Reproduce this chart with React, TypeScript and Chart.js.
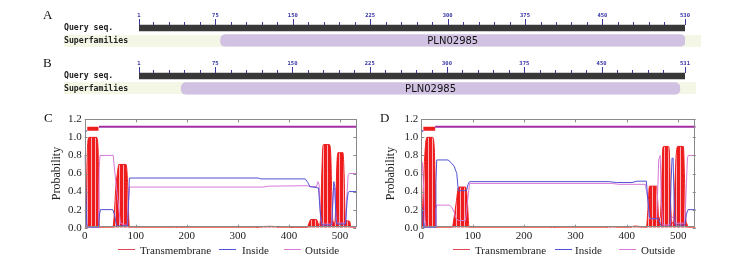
import React, { useEffect, useRef } from 'react';
import { Chart, registerables } from 'chart.js';

Chart.register(...registerables);

type Pt = [number, number];

// ---------- Panels A & B: conserved-domain graphics ----------
const rowLabels = ['Query seq.', 'Superfamilies'];
const domainName = 'PLN02985';
const queryRangeA: Pt = [1, 530];
const queryRangeB: Pt = [1, 531];
const domainRangeA: Pt = [80, 530];
const domainRangeB: Pt = [42, 526];
const rulerLabelsA = [1, 75, 150, 225, 300, 375, 450, 530];
const rulerLabelsB = [1, 75, 150, 225, 300, 375, 450, 531];
const rulerMinorTicks = [15, 30, 45, 60, 90, 105, 120, 135, 165, 180, 195, 210, 240, 255, 270, 285, 315, 330, 345, 360, 390, 405, 420, 435, 465, 480, 495, 510];

// ---------- Panels C & D: TMHMM posterior probabilities ----------
const seriesNames = ['Transmembrane', 'Inside', 'Outside'];
const xMaxC = 532;
const xMaxD = 534;

const tmC: Pt[] = [[0, 0], [3, 0], [4, 0.5], [6, 0.95], [9, 1], [23, 1], [26, 0.9], [27.5, 0.4], [28.5, 0], [55, 0], [58, 0.15], [61, 0.45], [64, 0.6], [67, 0.7], [81, 0.7], [84, 0.5], [86, 0.15], [87.5, 0], [178, 0], [185, 0.006], [195, 0.004], [198, 0], [335, 0], [345, 0.01], [360, 0.015], [375, 0.012], [382, 0], [400, 0], [410, 0.004], [430, 0.004], [436, 0], [438, 0.03], [443, 0.09], [454, 0.09], [459, 0.03], [462, 0.1], [464, 0.5], [466, 0.85], [468, 0.92], [479, 0.92], [482, 0.8], [484, 0.35], [486, 0.08], [490, 0.05], [492, 0.3], [494, 0.7], [496, 0.83], [506, 0.83], [508, 0.6], [510, 0.15], [512, 0.08], [519, 0.07], [521, 0.02], [523, 0], [532, 0]];
const insideC: Pt[] = [[0, 0.8], [2, 0.5], [4, 0.05], [5, 0], [27, 0], [29, 0.15], [31, 0.2], [55, 0.2], [58, 0.15], [62, 0.04], [64, 0.02], [84, 0.02], [86, 0.3], [87.5, 0.55], [340, 0.55], [345, 0.54], [432, 0.54], [437, 0.5], [441, 0.455], [458, 0.44], [461, 0.2], [464, 0.03], [484, 0.03], [486, 0.3], [488, 0.51], [490, 0.45], [492, 0.1], [494, 0.04], [511, 0.04], [514, 0.3], [516, 0.39], [518, 0.4], [532, 0.4]];
const outsideC: Pt[] = [[0, 0.2], [2, 0.15], [4, 0.03], [5, 0], [27, 0], [28.5, 0.66], [30, 0.8], [56, 0.8], [58, 0.67], [62, 0.45], [66, 0.25], [70, 0.05], [83, 0.02], [86, 0.3], [88, 0.45], [350, 0.45], [360, 0.46], [436, 0.465], [441, 0.455], [454, 0.455], [457, 0.51], [459, 0.48], [462, 0.1], [465, 0.04], [484, 0.04], [487, 0.4], [490, 0.44], [492, 0.15], [494, 0.05], [511, 0.05], [514, 0.4], [516, 0.58], [518, 0.6], [532, 0.6]];
const topInsideC: Pt[] = [[0, 1.07], [4, 1.07]];
const topTmC: Pt[] = [[5, 1.096], [27, 1.096]];
const topOutsideC: Pt[] = [[28, 1.118], [532, 1.118]];

const tmD: Pt[] = [[0, 0], [1, 0], [3, 0.3], [5, 0.6], [8, 0.9], [11, 1], [22, 1], [25, 0.9], [27, 0.5], [28.5, 0], [60, 0], [64, 0.12], [68, 0.28], [72, 0.44], [74, 0.45], [86, 0.45], [89, 0.35], [92, 0.05], [93, 0], [248, 0], [255, 0.005], [265, 0.004], [268, 0], [358, 0], [365, 0.01], [378, 0.012], [383, 0], [405, 0], [410, 0.012], [418, 0.018], [425, 0.012], [430, 0], [438, 0], [441, 0.2], [444, 0.46], [458, 0.46], [460, 0.3], [462, 0.1], [465, 0.12], [468, 0.5], [470, 0.88], [472, 0.9], [481, 0.9], [483, 0.8], [485, 0.3], [488, 0.05], [491, 0.08], [493, 0.4], [496, 0.8], [499, 0.9], [510, 0.9], [512, 0.6], [514, 0.15], [517, 0.04], [520, 0], [534, 0]];
const insideD: Pt[] = [[0, 0.25], [2, 0.2], [4, 0.05], [5, 0], [27, 0], [28.5, 0.5], [30, 0.75], [52, 0.75], [58, 0.72], [64, 0.68], [69, 0.6], [72, 0.41], [88, 0.41], [91, 0.48], [94, 0.51], [365, 0.51], [380, 0.5], [410, 0.5], [420, 0.515], [438, 0.515], [441, 0.3], [444, 0.12], [447, 0.1], [462, 0.1], [465, 0.04], [468, 0.015], [484, 0.015], [486, 0.5], [488, 0.77], [490, 0.77], [492, 0.3], [494, 0.03], [513, 0.03], [516, 0.15], [519, 0.2], [534, 0.2]];
const outsideD: Pt[] = [[0, 0.75], [2, 0.72], [4, 0.5], [7, 0.1], [9, 0], [27, 0], [28.5, 0.2], [30, 0.25], [55, 0.25], [60, 0.22], [64, 0.17], [68, 0.1], [72, 0.08], [86, 0.08], [90, 0.3], [94, 0.49], [370, 0.49], [385, 0.48], [436, 0.48], [440, 0.35], [444, 0.1], [458, 0.1], [460, 0.4], [462, 0.75], [465, 0.8], [467, 0.3], [470, 0.03], [484, 0.03], [486, 0.1], [490, 0.12], [493, 0.05], [513, 0.05], [516, 0.5], [518, 0.78], [520, 0.8], [534, 0.8]];
const topInsideD: Pt[] = [[0, 1.07], [4, 1.07]];
const topTmD: Pt[] = [[4, 1.096], [27, 1.096]];
const topOutsideD: Pt[] = [[27, 1.118], [534, 1.118]];

const COLORS = {
  tm: '#ee1c1c',
  inside: '#5252d4',
  outside: '#d77ad7',
  topOutside: '#a22ea2',
  legendTm: '#e0485a',
  frame: '#8a8a8a',
  text: '#222',
};

const toXY = (pts: Pt[]) => pts.map(([x, y]) => ({ x, y }));

function DomainPanel({ top, queryRange, domainRange, rulerLabels }: any) {
  const ref = useRef<HTMLCanvasElement>(null);
  useEffect(() => {
    const rulerPlugin = {
      id: 'ruler',
      afterDatasetsDraw(chart: any) {
        const { ctx } = chart;
        const xs = chart.scales.x;
        const bar = chart.getDatasetMeta(0).data[0];
        const barTop = bar.y - bar.height / 2;
        ctx.save();
        ctx.strokeStyle = '#3a3a96';
        ctx.lineWidth = 1;
        ctx.beginPath();
        rulerMinorTicks.forEach((v) => {
          const px = Math.round(xs.getPixelForValue(v)) + 0.5;
          ctx.moveTo(px, barTop);
          ctx.lineTo(px, barTop - 3);
        });
        rulerLabels.forEach((v: number) => {
          const px = Math.round(xs.getPixelForValue(v)) + 0.5;
          ctx.moveTo(px, barTop);
          ctx.lineTo(px, barTop - 6);
        });
        ctx.stroke();
        const dom = chart.getDatasetMeta(1).data[1];
        ctx.fillStyle = '#111';
        ctx.font = '10px "DejaVu Sans"';
        ctx.textAlign = 'center';
        ctx.textBaseline = 'middle';
        ctx.fillText(domainName, (dom.x + dom.base) / 2, dom.y + 0.5);
        ctx.restore();
      },
    };
    const chart = new Chart(ref.current!, {
      type: 'bar',
      data: {
        labels: rowLabels,
        datasets: [
          { label: rowLabels[0], data: [queryRange, null], backgroundColor: '#383838', barThickness: 6, grouped: false } as any,
          { label: rowLabels[1], data: [null, domainRange], backgroundColor: '#d1c2e3', barThickness: 12, borderRadius: 5, borderSkipped: false, grouped: false } as any,
        ],
      },
      options: {
        indexAxis: 'y',
        responsive: false,
        animation: false,
        events: [],
        layout: { padding: { left: 64, right: 61, top: 0, bottom: 5.25 } },
        plugins: { legend: { display: false }, tooltip: { enabled: false } },
        scales: {
          x: {
            type: 'linear',
            position: 'top',
            min: queryRange[0],
            max: queryRange[1],
            grid: { display: false, drawTicks: false },
            border: { display: false },
            afterBuildTicks: (s: any) => { s.ticks = rulerLabels.map((v: number) => ({ value: v })); },
            afterFit: (s: any) => { s.height = 21.75; },
            ticks: {
              autoSkip: false, maxRotation: 0, padding: 2.75, color: '#3535a8',
              font: { family: 'DejaVu Sans Mono', size: 5.5, weight: 'bold' },
              callback: (v: any) => String(v),
            },
          },
          y: {
            type: 'category',
            grid: { display: false, drawTicks: false },
            border: { display: false },
            afterFit: (s: any) => { s.width = 75; },
            ticks: { autoSkip: false, crossAlign: 'far', color: COLORS.text, padding: 0, font: { family: 'DejaVu Sans Mono', size: 8.2, weight: 'bold' } },
          },
        },
      } as any,
      plugins: [rulerPlugin],
    });
    return () => chart.destroy();
  }, []);
  return <canvas ref={ref} width={746} height={52} style={{ position: 'absolute', left: 0, top, width: 746, height: 52 }} />;
}

function TmPanel({ left, xMax, tm, inside, outside, topInside, topTm, topOutside, padLeft, axisWidth, padRight }: any) {
  const ref = useRef<HTMLCanvasElement>(null);
  useEffect(() => {
    const canvas = ref.current!;
    const tile = document.createElement('canvas');
    tile.width = 4;
    tile.height = 4;
    const g = tile.getContext('2d')!;
    g.fillStyle = COLORS.tm;
    g.fillRect(0, 0, 4, 4);
    g.fillStyle = '#f8b4b4';
    g.fillRect(3, 0, 1, 4);
    const pattern = canvas.getContext('2d')!.createPattern(tile, 'repeat');

    const framePlugin = {
      id: 'frameTicks',
      afterDraw(chart: any) {
        const { ctx, chartArea: a, scales } = chart;
        const xs = scales.x;
        const ys = scales.y;
        ctx.save();
        ctx.strokeStyle = COLORS.frame;
        ctx.lineWidth = 1;
        ctx.strokeRect(Math.round(a.left) + 0.5, Math.round(a.top) + 0.5, Math.round(a.right - a.left) - 1, Math.round(a.bottom - a.top) - 1);
        ctx.beginPath();
        const t = 3;
        xs.ticks.forEach((tk: any) => {
          const px = Math.round(xs.getPixelForValue(tk.value)) + 0.5;
          ctx.moveTo(px, a.bottom); ctx.lineTo(px, a.bottom - t);
          ctx.moveTo(px, a.top); ctx.lineTo(px, a.top + t);
        });
        ys.ticks.forEach((tk: any) => {
          const py = Math.round(ys.getPixelForValue(tk.value)) + 0.5;
          ctx.moveTo(a.left, py); ctx.lineTo(a.left + t, py);
          ctx.moveTo(a.right, py); ctx.lineTo(a.right - t, py);
        });
        ctx.stroke();
        ctx.restore();
      },
    };

    const base = { pointRadius: 0, tension: 0 };
    const chart = new Chart(canvas, {
      type: 'line',
      data: {
        datasets: [
          { ...base, label: 'topology outside', data: toXY(topOutside), borderColor: COLORS.topOutside, borderWidth: 2 },
          { ...base, label: 'topology TM', data: toXY(topTm), borderColor: COLORS.tm, borderWidth: 4, borderCapStyle: 'butt' },
          { ...base, label: 'topology inside', data: toXY(topInside), borderColor: COLORS.inside, borderWidth: 1.5 },
          { ...base, label: seriesNames[1], data: toXY(inside), borderColor: COLORS.inside, borderWidth: 1 },
          { ...base, label: seriesNames[2], data: toXY(outside), borderColor: COLORS.outside, borderWidth: 1 },
          { ...base, label: seriesNames[0], data: toXY(tm), borderColor: COLORS.tm, borderWidth: 1, backgroundColor: pattern, fill: 'origin', cubicInterpolationMode: 'monotone' },
        ] as any,
      },
      options: {
        responsive: false,
        animation: false,
        events: [],
        layout: { padding: { left: padLeft, right: padRight, top: 19.3, bottom: 6.3 } },
        plugins: { legend: { display: false }, tooltip: { enabled: false } },
        scales: {
          x: {
            type: 'linear', min: 0, max: xMax,
            grid: { display: false, drawTicks: false },
            border: { display: false },
            afterFit: (s: any) => { s.height = 16; },
            ticks: { stepSize: 100, includeBounds: false, padding: 2, maxRotation: 0, color: COLORS.text, font: { family: 'Liberation Serif', size: 11 }, callback: (v: any) => String(v) },
          },
          y: {
            type: 'linear', min: 0, max: 1.2,
            grid: { display: false, drawTicks: false },
            border: { display: false },
            afterFit: (s: any) => { s.width = axisWidth; },
            title: { display: true, text: 'Probability', color: COLORS.text, font: { family: 'Liberation Serif', size: 12 }, padding: { top: 5.5, bottom: 0 } },
            ticks: { stepSize: 0.2, padding: 3, color: COLORS.text, font: { family: 'Liberation Serif', size: 11 }, callback: (v: any) => Number(v).toFixed(1) },
          },
        },
      } as any,
      plugins: [framePlugin],
    });
    return () => chart.destroy();
  }, []);
  return <canvas ref={ref} width={373} height={150} style={{ position: 'absolute', left, top: 100, width: 373, height: 150 }} />;
}

function Legend({ items }: any) {
  const colors = [COLORS.legendTm, COLORS.inside, COLORS.outside];
  return (
    <>
      {items.map((it: any, i: number) => (
        <React.Fragment key={i}>
          <div style={{ position: 'absolute', left: it.line, top: 249, width: 17, height: 0, borderTop: `1px solid ${colors[i]}` }} />
          <span style={{ position: 'absolute', left: it.text, top: 242.5, font: '11px "Liberation Serif"', lineHeight: '14px', color: COLORS.text, whiteSpace: 'nowrap' }}>{seriesNames[i]}</span>
        </React.Fragment>
      ))}
    </>
  );
}

const letterStyle: any = { position: 'absolute', font: '13px "Liberation Serif"', lineHeight: '14px', color: '#111' };

export default function App() {
  return (
    <div style={{ position: 'absolute', left: 0, top: 0, width: 746, height: 261, overflow: 'hidden', background: '#fff' }}>
      <div style={{ position: 'absolute', left: 64, top: 34.5, width: 637, height: 12, background: '#f5f7e6' }} />
      <div style={{ position: 'absolute', left: 64, top: 82, width: 632, height: 12, background: '#f5f7e6' }} />
      <DomainPanel top={0} queryRange={queryRangeA} domainRange={domainRangeA} rulerLabels={rulerLabelsA} />
      <DomainPanel top={47.5} queryRange={queryRangeB} domainRange={domainRangeB} rulerLabels={rulerLabelsB} />
      <TmPanel left={0} xMax={xMaxC} tm={tmC} inside={insideC} outside={outsideC} topInside={topInsideC} topTm={topTmC} topOutside={topOutsideC} padLeft={44} axisWidth={40.7} padRight={16.7} />
      <TmPanel left={373} xMax={xMaxD} tm={tmD} inside={insideD} outside={outsideD} topInside={topInsideD} topTm={topTmD} topOutside={topOutsideD} padLeft={5.6} axisWidth={42.7} padRight={50.3} />
      <Legend items={[{ line: 118, text: 140 }, { line: 219, text: 242 }, { line: 284, text: 305 }]} />
      <Legend items={[{ line: 453, text: 475 }, { line: 555, text: 575 }, { line: 619, text: 641 }]} />
      <span style={{ ...letterStyle, left: 43, top: 7.9 }}>A</span>
      <span style={{ ...letterStyle, left: 43, top: 56.2 }}>B</span>
      <span style={{ ...letterStyle, left: 44, top: 110.9 }}>C</span>
      <span style={{ ...letterStyle, left: 380, top: 110.9 }}>D</span>
    </div>
  );
}
